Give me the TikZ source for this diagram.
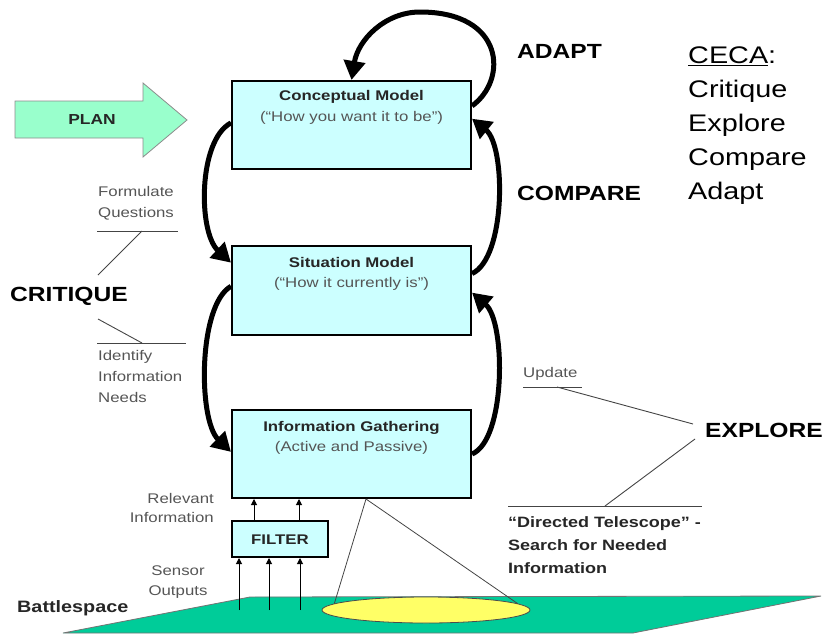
\documentclass[tikz,border=0pt]{standalone}
\usepackage{fontspec}
\setmainfont{Liberation Sans}[FakeStretch=1.2]
\usetikzlibrary{arrows.meta,shapes.geometric,calc}
\definecolor{boxfill}{HTML}{CCFFFF}
\definecolor{planfill}{HTML}{99FFCC}
\definecolor{groundfill}{HTML}{00CC99}
\definecolor{spotfill}{HTML}{FFFF66}
\definecolor{notegray}{HTML}{555555}
\definecolor{linegray}{HTML}{444444}

\begin{document}
\begin{tikzpicture}[x=1pt,y=-1pt,
  model/.style={draw=black, line width=2pt, fill=boxfill, inner sep=0pt,
                minimum width=239pt, minimum height=88pt},
  title/.style={font=\bfseries\fontsize{14}{17}\selectfont, text=black!85, inner sep=0pt, anchor=base},
  subtitle/.style={font=\fontsize{14}{17}\selectfont, text=notegray, inner sep=0pt, anchor=base},
  biglabel/.style={font=\bfseries\fontsize{20.5}{24}\selectfont, inner sep=0pt, anchor=base west},
  note/.style={font=\fontsize{14}{21}\selectfont, text=notegray, inner sep=0pt},
  loopflow/.style={line width=5pt, -{Triangle[length=19pt,width=21pt]}},
  feed/.style={line width=1pt, -{Triangle[length=6pt,width=6pt]}},
  guide/.style={line width=0.9pt, draw=linegray}
]
\useasboundingbox (0,0) rectangle (822,635);

% ground plane
\fill[groundfill, draw=black!55, line width=0.8pt]
  (63,633) -- (250,597) -- (821,596) -- (633,633) -- cycle;

% model boxes
\node[model] (cm) at (351.5,125) {};
\node[model, minimum height=89pt] (sm) at (351.5,290.5) {};
\node[model] (ig) at (351.5,454) {};
\node[draw=black, line width=2pt, fill=boxfill, inner sep=0pt,
      minimum width=96pt, minimum height=36pt] (flt) at (280,539) {};

\node[title] (cmt) at (351.5,100) {Conceptual Model};
\node[subtitle] (cms) at (351.5,121) {(“How you want it to be”)};
\node[title] (smt) at (351.5,267) {Situation Model};
\node[subtitle] (sms) at (351.5,287) {(“How it currently is”)};
\node[title] (igt) at (351.5,431) {Information Gathering};
\node[subtitle] (igs) at (351.5,451) {(Active and Passive)};
\node[title] (fltt) at (280,544) {FILTER};

% searched area and the telescope cone
\node[ellipse, draw=black!70, line width=0.8pt, fill=spotfill, inner sep=0pt,
      minimum width=208pt, minimum height=26pt] (spot) at (426,610) {};
\coordinate (apex) at (366,0);
\draw[line width=0.8pt, draw=linegray] (ig.south -| apex) -- (spot.176);
\draw[line width=0.8pt, draw=linegray] (ig.south -| apex) -- (spot.4);

% sensor feeds and filtered information
\coordinate (s1) at (239,610);
\coordinate (s2) at (269,610);
\coordinate (s3) at (300,610);
\draw[feed] (s1) -- (flt.south -| s1);
\draw[feed] (s2) -- (flt.south -| s2);
\draw[feed] (s3) -- (flt.south -| s3);
\coordinate (r1) at (254,0);
\coordinate (r2) at (299,0);
\draw[feed] (flt.north -| r1) -- (ig.south -| r1);
\draw[feed] (flt.north -| r2) -- (ig.south -| r2);

% CECA cycle arrows
\coordinate (looptop) at (420,12);
\draw[loopflow] (cm.9) .. controls (508,80) and (505,12) .. (looptop)
  .. controls (385,12) and (358,40) .. (cm.north);
\draw[loopflow] (cm.179) .. controls (198,140) and (198,232) .. (sm.167);
\draw[loopflow] (sm.178) .. controls (198,305) and (198,420) .. (ig.179);
\draw[loopflow] (ig.0) .. controls (506,440) and (506,322) .. (sm.-1);
\draw[loopflow] (sm.8) .. controls (506,258) and (506,146) .. (cm.3);

% plan arrow
\draw[fill=planfill, draw=black!45, line width=0.8pt]
  (15,101) -- (143,101) -- (143,83) -- (187,120) -- (143,157) -- (143,138) -- (15,138) -- cycle;
\node[font=\bfseries\fontsize{14.5}{17}\selectfont, text=black!85, inner sep=0pt] (plan) at (92,120) {PLAN};

% stage labels
\node[biglabel] (adapt) at (517,58) {ADAPT};
\node[biglabel] (compare) at (517,200) {COMPARE};
\node[biglabel] (critique) at (10,301) {CRITIQUE};
\node[biglabel] (explore) at (705,437) {EXPLORE};

\node[font=\fontsize{24}{34}\selectfont, align=left, anchor=north west, inner sep=0pt] (ceca)
  at (688,47) {\underline{CECA}:\\Critique\\Explore\\Compare\\Adapt};

% critique notes
\node[note, align=left, anchor=north west] (formq) at (98,186) {Formulate\\Questions};
\node[note, align=left, anchor=north west] (idneeds) at (98,350) {Identify\\Information\\Needs};
\draw[guide] (97,231) -- (178,231);
\draw[guide] (142,231) -- (98,275);
\draw[guide] (98,319) -- (142,343);
\draw[guide] (97,343) -- (186,343);

% explore notes
\node[note, align=left, anchor=north west] (update) at (523,367) {Update};
\draw[guide] (523,387) -- (582,387);
\draw[guide] (557,387) -- (693,424);
\draw[guide] (695,439) -- (605,506);
\draw[guide] (508,506) -- (702,506);
\node[font=\bfseries\fontsize{15}{23}\selectfont, text=black!85, align=left, anchor=north west, inner sep=0pt] (telescope)
  at (508,516) {“Directed Telescope” -\\Search for Needed\\Information};

% flow notes
\node[note, font=\fontsize{14}{19}\selectfont, align=right, anchor=north east] (relinfo) at (214,493) {Relevant\\Information};
\node[note, font=\fontsize{14}{20}\selectfont, align=center, anchor=north] (sensor) at (178,566) {Sensor\\Outputs};
\node[font=\bfseries\fontsize{16.5}{20}\selectfont, text=black!85, anchor=base west, inner sep=0pt] (battle) at (17,612) {Battlespace};
\end{tikzpicture}
\end{document}
